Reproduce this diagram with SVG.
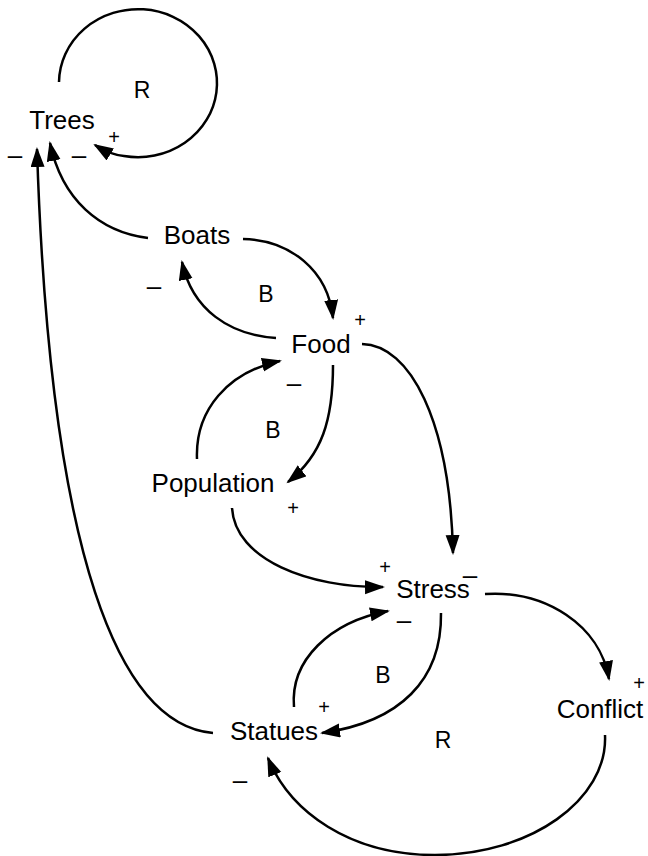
<svg xmlns="http://www.w3.org/2000/svg" width="648" height="856" viewBox="0 0 648 856">
<defs>
<marker id="ah" markerUnits="userSpaceOnUse" markerWidth="22" markerHeight="16" refX="18" refY="7" orient="auto">
<path d="M0,0 L20,7 L0,14 z" fill="#000"/>
</marker>
<style>
.node{font-family:"Liberation Sans",Arial,sans-serif;font-size:26px;fill:#000;text-anchor:middle}
.loop{font-family:"Liberation Sans",Arial,sans-serif;font-size:23px;fill:#000;text-anchor:middle}
.pol{font-family:"Liberation Sans",Arial,sans-serif;font-size:20px;fill:#000;text-anchor:middle}
.neg{font-family:"Liberation Sans",Arial,sans-serif;font-size:26px;fill:#000;text-anchor:middle}
.c{fill:none;stroke:#000;stroke-width:2.5;marker-end:url(#ah)}
</style>
</defs>
<rect width="648" height="856" fill="#fff"/>
<g id="connectors">
<path class="c" d="M59,82 A79,74 0 1 1 124,156 C112,155 103,150 95,145"/>
<path class="c" d="M148,238 C100,232 62,200 50,143"/>
<path class="c" d="M243,239 C290,240 328,270 333,318"/>
<path class="c" d="M276,338 C230,335 192,310 182,262"/>
<path class="c" d="M197,459 C195,410 228,372 280,361"/>
<path class="c" d="M333,365 C333,420 322,455 288,482"/>
<path class="c" d="M362,344 C410,345 450,420 453,553"/>
<path class="c" d="M232,508 C235,560 310,588 383,587"/>
<path class="c" d="M485,594 C545,590 600,625 609,679"/>
<path class="c" d="M294,707 C290,660 330,622 388,611"/>
<path class="c" d="M441,613 C442,680 400,722 322,733"/>
<path class="c" d="M605,735 C608,800 530,855 435,855 C350,855 290,812 268,758"/>
<path class="c" d="M213,733 C120,725 50,560 37,149"/>
</g>
<g id="Trees"><text class="node" x="62" y="129">Trees</text></g>
<g id="Boats"><text class="node" x="197" y="244">Boats</text></g>
<g id="Food"><text class="node" x="321" y="353">Food</text></g>
<g id="Population"><text class="node" x="213" y="492">Population</text></g>
<g id="Stress"><text class="node" x="433" y="598">Stress</text></g>
<g id="Statues"><text class="node" x="274" y="740">Statues</text></g>
<g id="Conflict"><text class="node" x="600" y="718">Conflict</text></g>
<g id="loop-labels">
<text class="loop" x="142" y="98">R</text>
<text class="loop" x="266" y="302">B</text>
<text class="loop" x="273" y="438">B</text>
<text class="loop" x="383" y="683">B</text>
<text class="loop" x="443" y="748">R</text>
</g>
<g id="polarities">
<text class="pol" x="114" y="144">+</text>
<text class="pol" x="360" y="327">+</text>
<text class="pol" x="293" y="515">+</text>
<text class="pol" x="385" y="574">+</text>
<text class="pol" x="324" y="714">+</text>
<text class="pol" x="639" y="690">+</text>
<text class="neg" x="15" y="164">–</text>
<text class="neg" x="79" y="164">–</text>
<text class="neg" x="154" y="295">–</text>
<text class="neg" x="294" y="392">–</text>
<text class="neg" x="470" y="584">–</text>
<text class="neg" x="404" y="629">–</text>
<text class="neg" x="240" y="789">–</text>
</g>
</svg>
